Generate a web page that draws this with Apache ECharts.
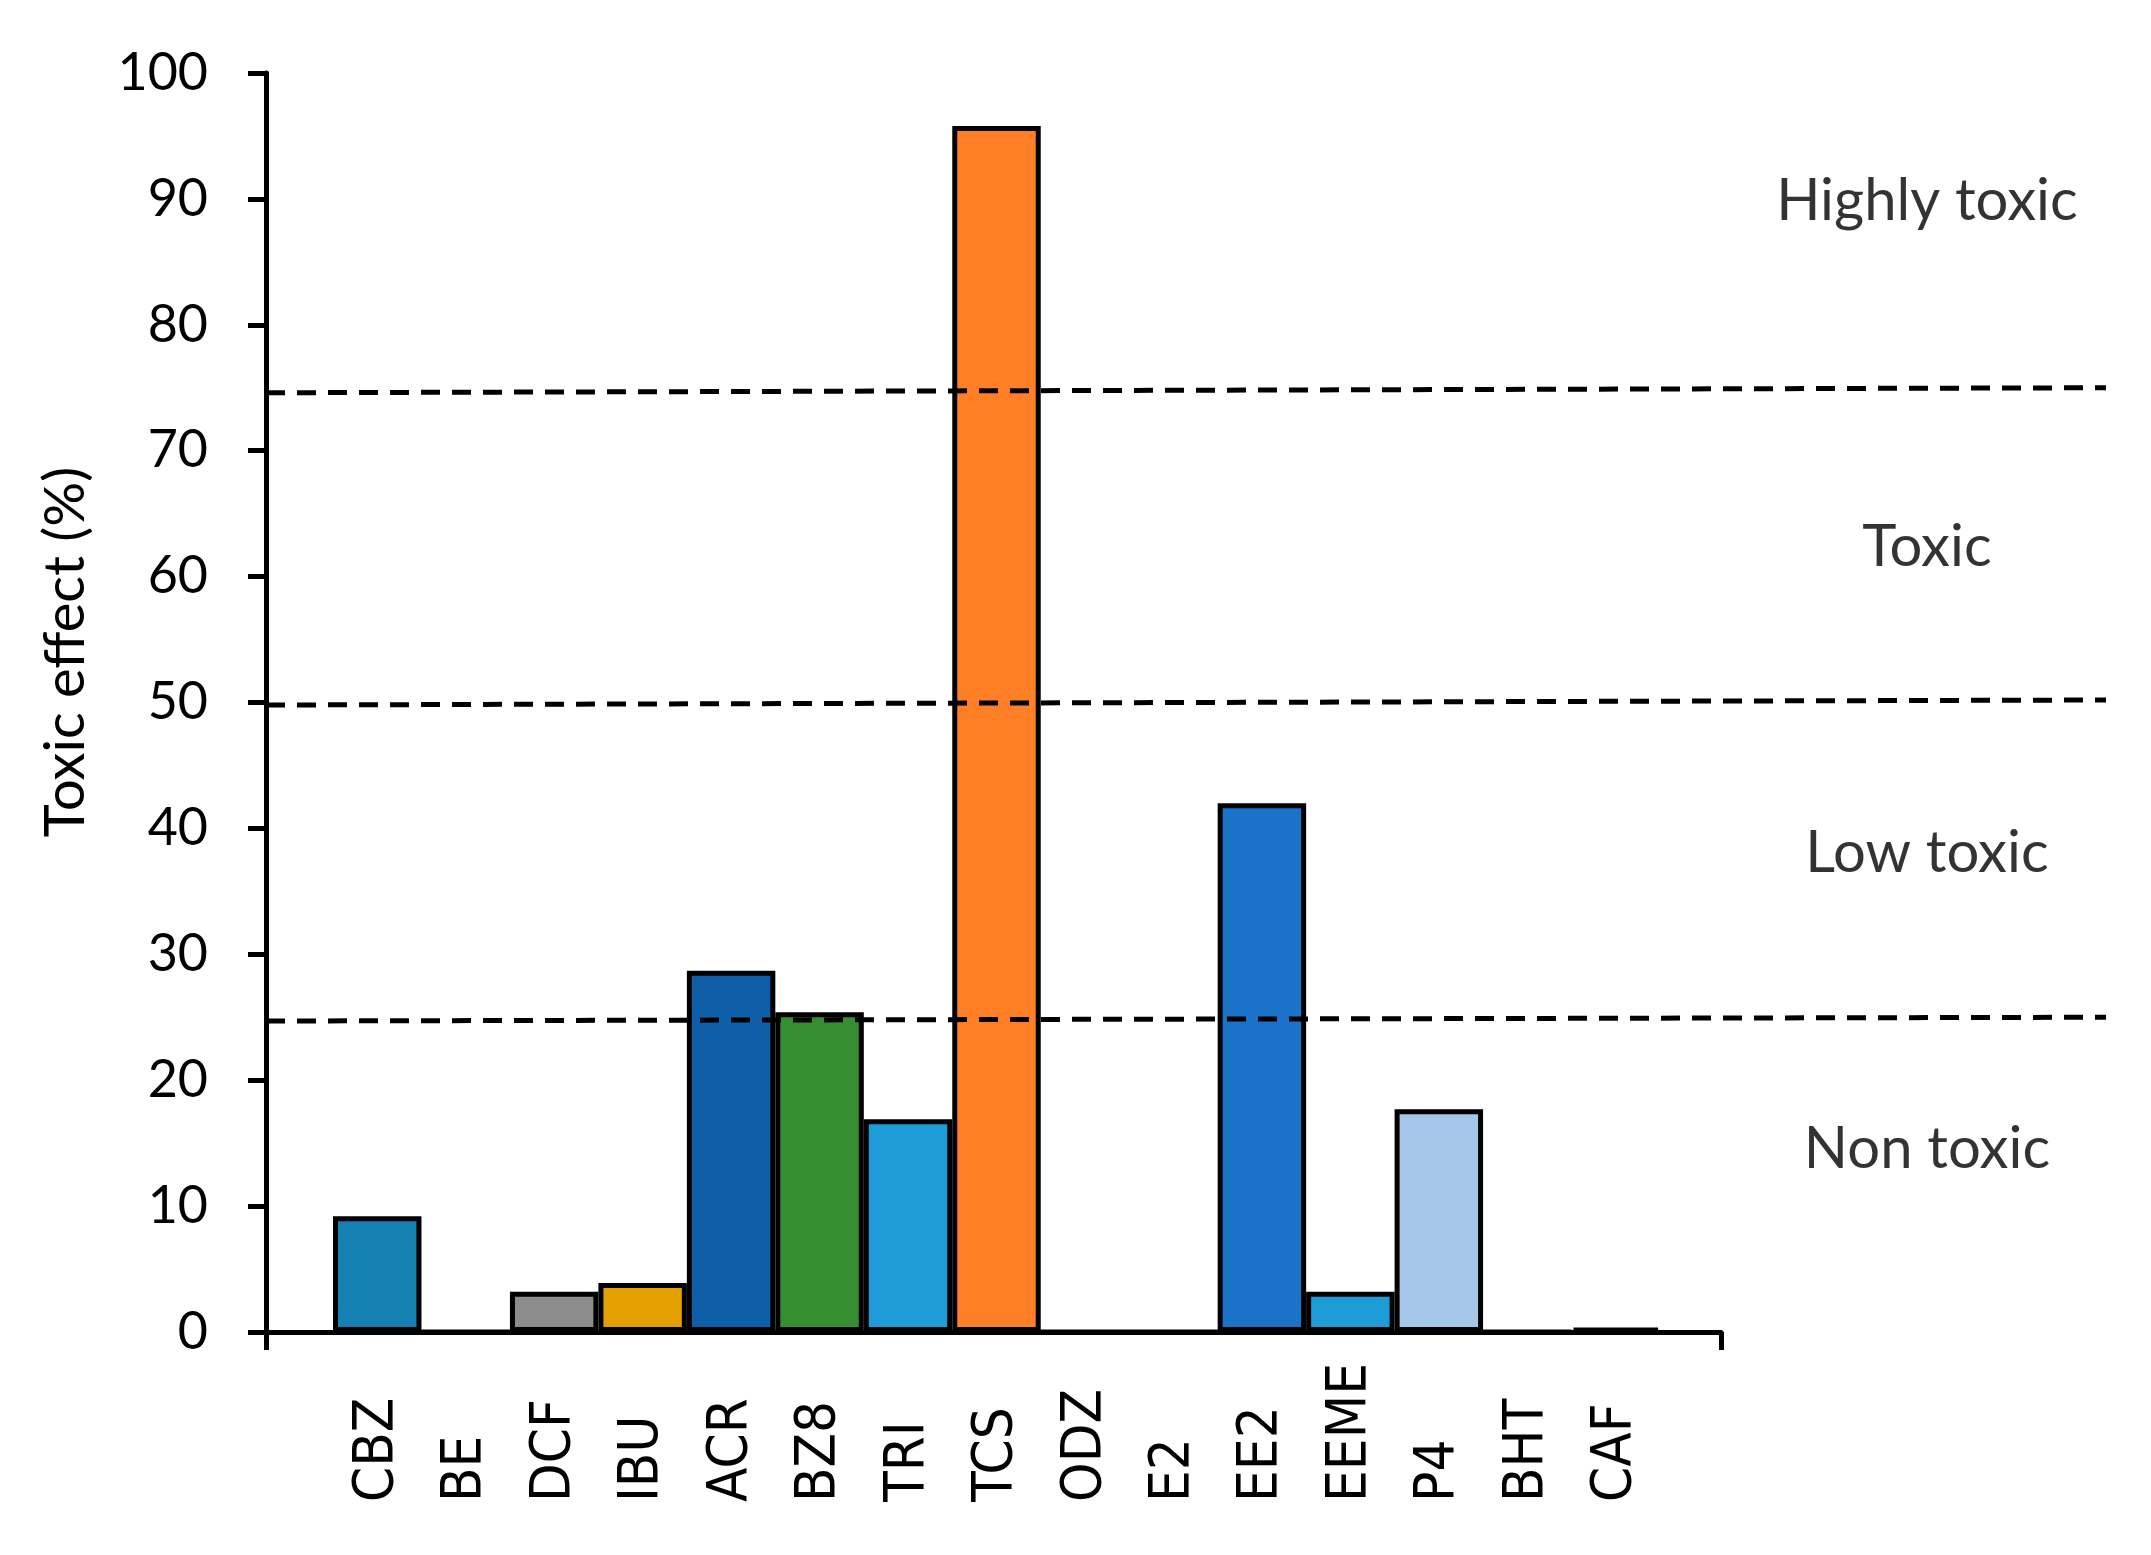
<!DOCTYPE html>
<html>
<head>
<meta charset="utf-8">
<script src="https://cdn.jsdelivr.net/npm/echarts@6/dist/echarts.min.js"></script>
<style>
html,body{margin:0;padding:0;background:#fff;}
#chart{width:2151px;height:1555px;}
</style>
</head>
<body>
<div id="chart"></div>
<script>
// ---- data ----
var categories = ['CBZ','BE','DCF','IBU','ACR','BZ8','TRI','TCS','ODZ','E2','EE2','EEME','P4','BHT','CAF'];
var toxicEffect = [9.2, 0, 3.2, 3.9, 28.7, 25.4, 16.9, 95.8, 0, 0, 42.0, 3.2, 17.7, 0, 0.3];
var barColors = ['#1580B2','#FFFFFF','#8C8C8C','#E3A000','#0F5FA8','#358F30','#1E9CD8','#FF7F27','#FFFFFF','#FFFFFF','#1A73C8','#1E9CD8','#A6C8E8','#FFFFFF','#333333'];
var yTicks = [0,10,20,30,40,50,60,70,80,90,100];
var thresholdLeft = [74.6, 49.8, 24.7];
var thresholdRight = [75.0, 50.2, 25.0];
var zoneNames = ['Highly toxic','Toxic','Low toxic','Non toxic'];
var zoneLevels = [89.8, 62.3, 38.0, 14.5];
var yAxisTitle = 'Toxic effect (%)';

var chart = echarts.init(document.getElementById('chart'), null, {renderer:'canvas'});

var TOP = 73, H = 1259;
var calibriLike = 'Lato, "Noto Sans", sans-serif';

var series = [];
series.push({
  type:'bar', xAxisIndex:1, yAxisIndex:1,
  barCategoryGap:'0%',
  data: toxicEffect.map(function(v,i){ return {value:v, itemStyle:{color:barColors[i]}}; }),
  itemStyle:{borderColor:'#000', borderWidth:5},
  z:2, silent:true, animation:false
});
thresholdLeft.forEach(function(l,i){
  series.push({
    type:'line', xAxisIndex:2, yAxisIndex:2,
    data:[[0,l],[1,thresholdRight[i]]],
    symbol:'none',
    lineStyle:{color:'#000', width:5, type:[19,12]},
    z:5, silent:true, animation:false
  });
});
series.push({
  type:'scatter', xAxisIndex:2, yAxisIndex:2,
  symbolSize:1,
  itemStyle:{color:'rgba(0,0,0,0)'},
  data: zoneNames.map(function(n,i){ return [0.9027, zoneLevels[i], n]; }),
  label:{show:true, position:'inside', formatter:function(p){return p.data[2];},
    fontSize:58, fontFamily:calibriLike, color:'#000'},
  z:6, silent:true, animation:false
});

chart.setOption({
  backgroundColor:'#fff',
  animation:false,
  grid:[
    {left:266, top:TOP, width:1455, height:H},
    {left:333, top:TOP, width:1327, height:H},
    {left:266, top:TOP, width:1840, height:H}
  ],
  xAxis:[
    {gridIndex:0, type:'value', min:0, max:1, interval:1,
      axisLine:{show:true, lineStyle:{color:'#000', width:5}},
      axisTick:{show:true, length:18, lineStyle:{color:'#000', width:5}},
      axisLabel:{show:false}, splitLine:{show:false}},
    {gridIndex:1, type:'category', data:categories,
      axisLine:{show:false}, axisTick:{show:false}, splitLine:{show:false},
      axisLabel:{show:true, interval:0, rotate:90, align:'left', verticalAlign:'middle',
        margin:170, fontSize:56, fontFamily:'"Liberation Sans Narrow", "DejaVu Sans Condensed", "Liberation Sans", sans-serif', color:'#000', hideOverlap:false}},
    {gridIndex:2, type:'value', min:0, max:1, show:false}
  ],
  yAxis:[
    {gridIndex:0, type:'value', min:yTicks[0], max:yTicks[yTicks.length-1], interval:yTicks[1]-yTicks[0],
      axisLine:{show:true, lineStyle:{color:'#000', width:5}},
      axisTick:{show:true, length:18, lineStyle:{color:'#000', width:5}},
      axisLabel:{show:true, margin:58, fontSize:52, fontFamily:calibriLike, color:'#000'},
      splitLine:{show:false}},
    {gridIndex:1, type:'value', min:0, max:100, show:false},
    {gridIndex:2, type:'value', min:0, max:100, show:false}
  ],
  graphic:[
    {type:'text', x:66, y:652, rotation:Math.PI/2,
      style:{text:yAxisTitle, fontSize:56, fontFamily:calibriLike, fill:'#000',
        textAlign:'center', textVerticalAlign:'middle'}}
  ],
  series:series
});
</script>
</body>
</html>
